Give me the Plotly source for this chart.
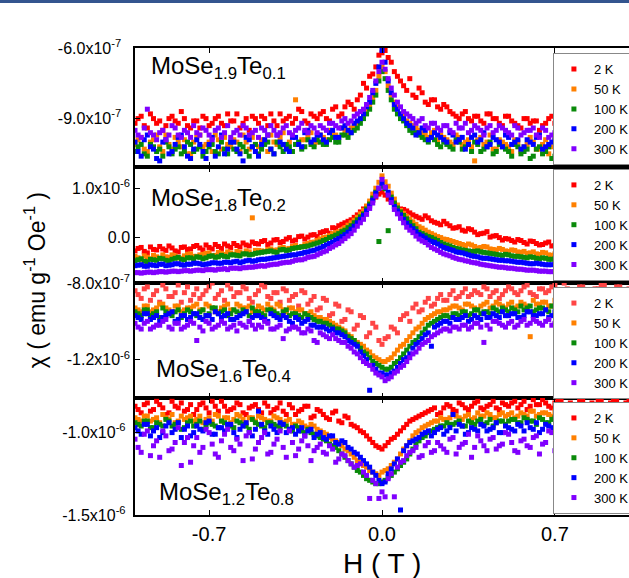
import plotly.graph_objects as go

# Field values, first sweep
H = [-1.0, -0.975, -0.95, -0.925, -0.9, -0.875, -0.85, -0.825, -0.8, -0.775,
     -0.75, -0.725, -0.7, -0.675, -0.65, -0.625, -0.6, -0.575, -0.55, -0.525,
     -0.5, -0.475, -0.45, -0.425, -0.4, -0.375, -0.35, -0.325, -0.3, -0.275,
     -0.25, -0.225, -0.2, -0.175, -0.15, -0.125, -0.1, -0.075, -0.05, -0.025,
     0.0,
     0.025, 0.05, 0.075, 0.1, 0.125, 0.15, 0.175, 0.2, 0.225, 0.25,
     0.275, 0.3, 0.325, 0.35, 0.375, 0.4, 0.425, 0.45, 0.475, 0.5,
     0.525, 0.55, 0.575, 0.6, 0.625, 0.65, 0.675, 0.7, 0.725, 0.75,
     0.775, 0.8, 0.825, 0.85, 0.875, 0.9, 0.925, 0.95, 0.975, 1.0]
# Field values, second sweep
H_B = [-0.9875, -0.9625, -0.9375, -0.9125, -0.8875, -0.8625, -0.8375, -0.8125, -0.7875, -0.7625,
       -0.7375, -0.7125, -0.6875, -0.6625, -0.6375, -0.6125, -0.5875, -0.5625, -0.5375, -0.5125,
       -0.4875, -0.4625, -0.4375, -0.4125, -0.3875, -0.3625, -0.3375, -0.3125, -0.2875, -0.2625,
       -0.2375, -0.2125, -0.1875, -0.1625, -0.1375, -0.1125, -0.0875, -0.0625, -0.0375, -0.0125,
       0.0125, 0.0375, 0.0625, 0.0875, 0.1125, 0.1375, 0.1625, 0.1875, 0.2125, 0.2375,
       0.2625, 0.2875, 0.3125, 0.3375, 0.3625, 0.3875, 0.4125, 0.4375, 0.4625, 0.4875,
       0.5125, 0.5375, 0.5625, 0.5875, 0.6125, 0.6375, 0.6625, 0.6875, 0.7125, 0.7375,
       0.7625, 0.7875, 0.8125, 0.8375, 0.8625, 0.8875, 0.9125, 0.9375, 0.9625, 0.9875]

TEMPS = ["2 K", "50 K", "100 K", "200 K", "300 K"]
COMPOUNDS = ["MoSe<sub>1.9</sub>Te<sub>0.1</sub>", "MoSe<sub>1.8</sub>Te<sub>0.2</sub>",
             "MoSe<sub>1.6</sub>Te<sub>0.4</sub>", "MoSe<sub>1.2</sub>Te<sub>0.8</sub>"]
UNIT = 1e-8  # values below are in units of 1e-8 emu g^-1 Oe^-1

# ---------- MoSe1.9Te0.1 ----------
P1_2K = [-92,-89,-94,-90,-91,-93,-89,-92,-90,-94, -91,-89,-93,-90,-92,-88,-91,-94,-90,-89,
         -92,-90,-88,-93,-91,-89,-90,-87,-92,-89, -88,-90,-86,-89,-85,-84,-82,-75,-72,-68,
         -62,
         -64,-70,-74,-78,-80,-77,-83,-82,-85,-84, -87,-89,-88,-90,-89,-91,-88,-90,-92,-89,
         -91,-93,-90,-92,-91,-93,-90,-92,-94,-91, -93,-92,-94,-91,-95,-93,-92,-96,-94,-95]
P1_2K_B = [-90,-93,-88,-92,-95,-90,-91,-87,-93,-91, -94,-90,-92,-89,-93,-91,-88,-92,-95,-90,
           -89,-93,-91,-88,-90,-92,-86,-91,-88,-90, -87,-91,-85,-88,-83,-86,-80,-77,-71,-63,
           -61,-66,-72,-76,-73,-81,-79,-84,-82,-86, -85,-88,-90,-87,-91,-89,-92,-88,-90,-93,
           -89,-92,-94,-90,-91,-95,-92,-89,-93,-95, -92,-94,-91,-96,-93,-95,-92,-94,-97,-93]
P1_50K = [-101,-98,-104,-99,-102,-97,-103,-100,-99,-105, -98,-102,-100,-97,-103,-101,-99,-104,-100,-98,
          -102,-99,-97,-101,-96,-100,-82,-99,-98,-101, -97,-99,-96,-98,-95,-94,-92,-88,-84,-78,
          -68,
          -76,-83,-88,-91,-93,-95,-97,-96,-99,-98, -100,-97,-101,-99,-108,-98,-100,-103,-99,-101,
          -104,-100,-102,-98,-103,-101,-105,-99,-102,-104, -101,-103,-100,-105,-102,-104,-101,-106,-103,-102]
P1_50K_B = [-99,-103,-100,-97,-104,-101,-98,-102,-105,-100, -97,-101,-104,-99,-98,-102,-100,-97,-103,-101,
            -99,-104,-100,-98,-102,-97,-101,-99,-96,-100, -98,-95,-97,-94,-96,-93,-90,-86,-81,-72,
            -70,-80,-85,-89,-92,-94,-96,-98,-95,-97, -99,-101,-98,-100,-102,-99,-101,-97,-103,-100,
            -102,-99,-104,-101,-100,-103,-99,-102,-105,-101, -103,-100,-104,-102,-99,-105,-103,-101,-104,-106]
P1_100K = [-104,-101,-106,-102,-103,-100,-105,-102,-104,-101, -103,-106,-102,-104,-100,-105,-103,-101,-104,-102,
           -105,-101,-103,-100,-104,-102,-101,-103,-99,-102, -100,-101,-98,-100,-97,-96,-94,-90,-86,-80,
           -70,
           -78,-86,-90,-93,-96,-97,-99,-98,-101,-100, -102,-99,-103,-101,-100,-104,-102,-105,-101,-103,
           -106,-102,-104,-107,-103,-105,-102,-106,-104,-107, -105,-103,-106,-104,-108,-105,-103,-107,-105,-106]
P1_100K_B = [-102,-105,-101,-104,-106,-102,-103,-105,-100,-104, -102,-104,-101,-105,-103,-100,-104,-102,-106,-101,
             -103,-100,-105,-102,-101,-104,-100,-102,-101,-99, -101,-99,-100,-97,-98,-95,-92,-88,-83,-74,
             -73,-82,-88,-91,-95,-96,-98,-100,-99,-102, -101,-103,-100,-102,-104,-101,-103,-100,-104,-102,
             -104,-101,-105,-103,-106,-102,-104,-107,-103,-105, -107,-104,-106,-103,-105,-108,-104,-106,-103,-107]
P1_200K = [-100,-106,-97,-103,-108,-99,-104,-98,-102,-107, -99,-104,-101,-106,-97,-103,-100,-105,-98,-102,
           -106,-99,-103,-97,-101,-104,-98,-102,-95,-99, -97,-100,-95,-98,-93,-96,-91,-88,-83,-75,
           -61,
           -74,-84,-88,-92,-94,-96,-95,-98,-97,-99, -96,-100,-98,-101,-97,-99,-102,-98,-100,-97,
           -101,-99,-102,-100,-98,-103,-101,-99,-102,-100, -103,-101,-99,-104,-102,-100,-103,-101,-104,-102]
P1_200K_B = [-104,-99,-102,-107,-100,-105,-101,-97,-106,-103, -101,-107,-98,-102,-105,-100,-103,-108,-99,-104,
             -101,-97,-105,-100,-103,-98,-101,-96,-100,-97, -99,-96,-98,-94,-95,-92,-90,-85,-79,-68,
             -66,-79,-86,-90,-93,-97,-94,-99,-96,-98, -100,-97,-99,-103,-98,-100,-96,-101,-99,-102,
             -98,-100,-103,-99,-101,-97,-102,-100,-104,-99, -102,-100,-104,-98,-101,-103,-100,-102,-99,-103]
P1_300K = [-95,-98,-86,-97,-96,-99,-93,-97,-95,-98, -96,-94,-97,-95,-98,-93,-96,-97,-94,-96,
           -98,-95,-93,-97,-94,-96,-95,-92,-96,-94, -93,-95,-92,-94,-90,-91,-88,-86,-81,-74,
           -66,
           -73,-80,-85,-88,-90,-91,-93,-92,-94,-93, -95,-92,-94,-96,-93,-95,-94,-96,-93,-95,
           -97,-94,-96,-95,-97,-94,-98,-96,-95,-97, -96,-98,-95,-97,-99,-96,-98,-97,-95,-98]
P1_300K_B = [-97,-94,-96,-99,-95,-97,-94,-98,-96,-93, -97,-95,-99,-94,-96,-98,-95,-93,-97,-95,
             -94,-97,-95,-96,-93,-97,-94,-95,-93,-96, -94,-92,-93,-91,-92,-89,-87,-84,-78,-70,
             -69,-77,-83,-87,-89,-92,-90,-94,-92,-95, -93,-96,-94,-92,-95,-94,-97,-93,-95,-94,
             -96,-93,-97,-95,-94,-98,-95,-97,-96,-94, -98,-96,-97,-95,-98,-97,-99,-96,-98,-97]

# ---------- MoSe1.8Te0.2 ----------
P2_2K = [-27,-20,-31,-24,-18,-26,-21,-29,-19,-23, -16,-25,-20,-14,-22,-17,-12,-19,-15,-9,
         -13,-6,-11,-4,-8,0,-5,3,1,6, 10,14,20,24,30,36,46,58,70,82,
         92,
         78,68,58,54,46,40,44,34,29,33, 24,20,15,18,11,8,12,3,0,-2,
         -6,-4,-10,-7,-12,-14,-9,-16,-13,-18, -15,-21,-17,-23,-19,-25,-22,-28,-24,-30]
P2_2K_B = [-22,-28,-19,-25,-23,-17,-27,-20,-24,-18, -21,-15,-23,-18,-13,-20,-16,-11,-17,-12,
           -8,-14,-5,-10,-3,-7,2,-3,5,2, 12,9,19,27,33,41,52,63,76,88,
           86,73,62,57,50,43,37,40,31,26, 28,19,22,13,16,6,9,1,4,-5,
           -3,-9,-6,-13,-8,-15,-11,-17,-14,-20, -16,-22,-19,-25,-21,-27,-23,-26,-29,-25]
P2_50K = [-38,-44,-40,-36,-42,-39,-35,-41,-37,-33, -38,-34,-31,-36,-32,-29,-34,-30,-27,40,
          -26,-28,-23,-25,-20,-22,-16,-18,-12,-9, -3,1,8,12,20,30,41,55,74,100,
          125,
          104,78,55,43,32,22,15,8,2,-3, -6,-10,-14,-13,-18,-20,-19,-24,-22,-27,
          -25,-29,-28,-31,-33,-30,-35,-33,-37,-34, -38,-36,-40,-37,-41,-39,-43,-40,-44,-42]
P2_50K_B = [-41,-37,-43,-39,-35,-40,-37,-42,-34,-38, -35,-32,-37,-30,-34,-31,-28,-33,-29,-26,
            -27,-24,-26,-21,-23,-18,-20,-14,-10,-6, 0,4,10,16,25,35,48,64,88,112,
            113,90,66,49,37,27,19,11,5,0, -4,-8,-12,-16,-15,-21,-18,-23,-25,-24,
            -28,-26,-30,-32,-29,-34,-31,-36,-35,-38, -37,-39,-41,-38,-42,-40,-44,-41,-43,-45]
P2_100K = [-47,-43,-49,-45,-42,-46,-44,-40,-45,-41, -39,-43,-38,-40,-36,-39,-35,-37,-33,-34,
           -31,-29,-27,-30,-24,-25,-21,-19,-17,-13, -9,-4,2,8,15,24,36,48,68,92,
           104,
           14,70,52,38,24,11,5,0,-6,-13, -17,-22,-25,-27,-28,-29,-31,-33,-35,-34,
           -37,-38,-40,-39,-42,-41,-44,-43,-45,-44, -46,-45,-47,-46,-48,-47,-49,-48,-50,-49]
P2_100K_B = [-45,-48,-44,-46,-43,-47,-42,-44,-41,-43, -40,-41,-37,-39,-38,-35,-36,-33,-35,-32,
             -30,-28,-29,-25,-26,-22,-20,-18,-15,-11, -6,0,5,12,20,30,42,58,80,-8,
             99,82,60,45,31,18,8,2,-3,-10, -15,-20,-23,-26,-28,-27,-30,-32,-34,-36,
             -35,-38,-39,-41,-40,-43,-42,-44,-43,-45, -47,-45,-46,-48,-47,-49,-48,-46,-49,-48]
P2_200K = [-57,-55,-58,-56,-54,-57,-55,-53,-56,-54, -52,-55,-53,-51,-52,-50,-49,-51,-47,-48,
           -45,-44,-42,-40,-38,-36,-35,-32,-29,-26, -21,-15,-9,-2,6,17,30,45,64,90,
           110,
           92,63,46,29,18,6,-1,-8,-13,-20, -24,-29,-31,-35,-38,-41,-42,-44,-46,-47,
           -48,-50,-51,-53,-52,-54,-55,-54,-56,-57, -56,-58,-57,-59,-58,-60,-58,-59,-61,-60]
P2_200K_B = [-56,-58,-55,-57,-54,-56,-53,-55,-54,-52, -53,-54,-51,-52,-50,-51,-48,-49,-46,-47,
             -44,-43,-41,-39,-37,-35,-33,-30,-27,-23, -18,-12,-5,2,11,23,37,54,76,100,
             102,77,54,37,23,12,3,-5,-10,-17, -22,-26,-30,-33,-37,-39,-42,-43,-45,-46,
             -47,-49,-50,-52,-53,-53,-55,-55,-56,-57, -57,-58,-58,-58,-59,-59,-60,-59,-60,-61]
P2_300K = [-71,-72,-70,-71,-69,-70,-68,-69,-67,-68, -66,-67,-65,-66,-64,-65,-62,-63,-61,-60,
           -58,-58,-55,-54,-51,-50,-46,-45,-40,-38, -32,-27,-19,-12,-2,8,23,37,59,84,
           118,
           86,57,39,21,10,-3,-10,-20,-26,-33, -37,-42,-45,-48,-51,-54,-56,-58,-60,-61,
           -62,-64,-65,-66,-67,-68,-69,-69,-70,-70, -71,-71,-72,-72,-73,-72,-73,-74,-73,-74]
P2_300K_B = [-71,-71,-70,-70,-69,-69,-68,-68,-67,-67, -66,-65,-65,-64,-63,-62,-62,-61,-60,-59,
             -57,-56,-54,-52,-50,-48,-45,-43,-39,-35, -29,-22,-15,-7,3,15,30,47,70,100,
             102,71,48,30,15,3,-7,-15,-23,-30, -35,-40,-44,-47,-50,-52,-55,-57,-59,-60,
             -62,-63,-64,-66,-66,-68,-68,-69,-70,-71, -71,-72,-71,-73,-72,-73,-74,-73,-74,-75]

# ---------- MoSe1.6Te0.4 ----------
P3_2K = [-84,-88,-82,-86,-90,-83,-87,-81,-85,-89, -83,-86,-82,-88,-84,-81,-87,-85,-83,-90,
         -84,-82,-88,-85,-83,-89,-86,-84,-91,-87, -93,-89,-96,-92,-99,-95,-102,-98,-106,-103,
         -112,
         -108,-104,-99,-96,-93,-95,-90,-92,-88,-89, -86,-88,-85,-87,-84,-86,-83,-85,-88,-84,
         -83,-86,-82,-85,-87,-83,-84,-81,-86,-83, -85,-82,-84,-86,-83,-81,-85,-82,-84,-83]
P3_2K_B = [-86,-83,-89,-84,-81,-87,-85,-90,-82,-86, -88,-84,-80,-86,-89,-83,-85,-82,-88,-86,
           -81,-87,-85,-90,-84,-87,-92,-85,-89,-94, -88,-97,-91,-100,-94,-104,-97,-108,-101,-110,
           -109,-103,-106,-97,-100,-91,-94,-88,-91,-86, -89,-84,-87,-83,-86,-85,-82,-87,-84,-86,
           -82,-85,-84,-81,-86,-83,-85,-82,-84,-80, -84,-86,-82,-85,-83,-81,-84,-86,-82,-85]
P3_50K = [-93,-95,-92,-94,-91,-93,-95,-92,-94,-93, -91,-94,-92,-95,-93,-91,-94,-92,-93,-95,
          -92,-94,-93,-91,-94,-93,-95,-94,-96,-97, -98,-99,-101,-103,-105,-108,-111,-113,-116,-119,
          -121,
          -120,-117,-113,-110,-106,-103,-99,-97,-95,-94, -93,-92,-94,-91,-93,-92,-90,-92,-91,-93,
          -90,-92,-91,-108,-91,-90,-92,-89,-91,-90, -89,-91,-90,-92,-89,-91,-90,-88,-91,-89]
P3_50K_B = [-94,-92,-95,-93,-91,-94,-92,-95,-93,-92, -94,-91,-93,-95,-92,-94,-91,-93,-92,-94,
            -93,-91,-94,-92,-95,-93,-94,-96,-95,-98, -99,-100,-102,-104,-107,-110,-112,-115,-118,-120,
            -121,-119,-115,-112,-108,-104,-101,-98,-96,-95, -94,-92,-93,-91,-92,-94,-91,-93,-90,-92,
            -91,-93,-90,-92,-89,-91,-90,-92,-90,-91, -90,-88,-91,-89,-90,-92,-89,-90,-88,-90]
P3_100K = [-95,-97,-94,-96,-98,-95,-97,-94,-96,-95, -97,-94,-96,-93,-95,-97,-94,-96,-95,-93,
           -95,-97,-94,-96,-95,-97,-96,-98,-97,-99, -100,-101,-103,-104,-106,-109,-112,-116,-119,-122,
           -124,
           -125,-122,-119,-115,-111,-108,-104,-101,-99,-97, -98,-96,-95,-97,-94,-96,-95,-93,-95,-94,
           -93,-95,-94,-92,-94,-93,-95,-92,-94,-93, -92,-94,-93,-91,-93,-92,-94,-91,-93,-92]
P3_100K_B = [-96,-94,-97,-95,-93,-96,-95,-98,-94,-96, -95,-97,-93,-96,-94,-96,-95,-94,-97,-95,
             -96,-94,-95,-97,-94,-96,-97,-96,-98,-100, -101,-102,-104,-105,-108,-110,-114,-117,-121,-123,
             -125,-124,-121,-117,-113,-110,-106,-102,-100,-98, -97,-96,-97,-95,-96,-94,-95,-96,-94,-93,
             -95,-94,-92,-93,-95,-93,-94,-92,-93,-94, -93,-92,-94,-92,-93,-91,-92,-93,-91,-92]
P3_200K = [-97,-99,-96,-98,-100,-97,-95,-99,-97,-98, -96,-99,-97,-95,-98,-96,-99,-97,-95,-98,
           -97,-99,-96,-98,-97,-100,-98,-101,-99,-102, -103,-104,-104,-106,-108,-111,-113,-118,-136,-125,
           -127,
           -128,-126,-122,-119,-114,-111,-107,-113,-102,-100, -101,-99,-98,-100,-97,-99,-98,-96,-98,-97,
           -96,-98,-97,-95,-97,-96,-98,-95,-97,-96, -94,-97,-95,-96,-94,-97,-95,-96,-94,-95]
P3_200K_B = [-98,-96,-99,-97,-98,-96,-100,-97,-99,-96, -98,-97,-99,-96,-97,-99,-98,-96,-100,-97,
             -98,-100,-97,-99,-98,-101,-99,-100,-102,-103, -103,-105,-106,-107,-110,-112,-116,-120,-123,-127,
             -128,-127,-124,-120,-117,-112,-109,-106,-103,-101, -100,-98,-99,-97,-99,-98,-96,-98,-97,-95,
             -97,-96,-98,-95,-97,-96,-94,-97,-95,-96, -95,-96,-94,-97,-95,-93,-96,-95,-94,-96]
P3_300K = [-101,-104,-100,-103,-102,-99,-104,-101,-103,-100, -110,-105,-101,-103,-100,-104,-102,-101,-103,-102,
           -102,-100,-104,-103,-109,-104,-103,-106,-104,-110, -106,-108,-107,-110,-111,-114,-117,-121,-123,-127,
           -129,
           -130,-127,-124,-121,-117,-114,-111,-108,-106,-104, -105,-103,-102,-104,-101,-103,-102,-100,-101,-103,
           -100,-102,-99,-101,-100,-102,-99,-101,-98,-100, -102,-99,-101,-98,-100,-99,-101,-98,-100,-99]
P3_300K_B = [-103,-101,-104,-102,-100,-103,-101,-104,-102,-101, -103,-100,-104,-102,-101,-103,-105,-102,-100,-104,
             -103,-101,-104,-102,-105,-103,-104,-106,-105,-111, -107,-109,-109,-111,-113,-116,-119,-122,-125,-128,
             -131,-129,-126,-123,-119,-116,-112,-110,-107,-105, -104,-103,-104,-102,-103,-101,-111,-104,-100,-102,
             -101,-103,-100,-102,-99,-101,-100,-102,-99,-101, -100,-98,-101,-99,-100,-102,-99,-100,-98,-101]

# ---------- MoSe1.2Te0.8 ----------
P4_2K = [-84,-88,-82,-86,-83,-89,-81,-85,-87,-83, -86,-82,-88,-84,-81,-87,-85,-83,-89,-84,
         -86,-82,-88,-85,-87,-83,-89,-86,-84,-90, -87,-91,-88,-93,-90,-95,-97,-100,-104,-108,
         -110,
         -106,-103,-99,-95,-92,-90,-88,-86,-89,-85, -84,-87,-83,-86,-82,-85,-84,-81,-86,-83,
         -82,-85,-81,-84,-83,-80,-84,-82,-81,-83, -85,-80,-83,-82,-81,-84,-82,-80,-83,-81]
P4_2K_B = [-86,-83,-87,-81,-85,-88,-84,-82,-86,-89, -83,-85,-81,-87,-84,-86,-82,-88,-85,-83,
           -88,-84,-86,-82,-89,-85,-87,-84,-91,-86, -89,-92,-87,-94,-91,-96,-99,-102,-106,-109,
           -108,-104,-101,-97,-93,-91,-89,-87,-85,-88, -83,-86,-82,-85,-84,-81,-86,-83,-85,-82,
           -84,-81,-83,-86,-80,-83,-82,-85,-81,-84, -82,-84,-80,-83,-85,-81,-83,-80,-84,-82]
P4_50K = [-91,-93,-90,-92,-94,-91,-89,-93,-92,-90, -92,-94,-91,-89,-93,-91,-92,-90,-94,-91,
          -90,-92,-93,-91,-94,-92,-95,-94,-97,-96, -99,-101,-104,-106,-110,-113,-117,-120,-123,-125,
          -124,
          -122,-118,-113,-108,-102,-99,-96,-94,-93,-92, -91,-90,-92,-89,-91,-90,-88,-91,-89,-90,
          -88,-90,-89,-87,-90,-88,-89,-87,-90,-88, -89,-87,-88,-90,-87,-89,-88,-86,-89,-87]
P4_50K_B = [-92,-90,-93,-91,-89,-92,-94,-90,-91,-93, -90,-92,-93,-90,-91,-94,-89,-92,-91,-93,
            -91,-93,-90,-92,-93,-95,-93,-96,-95,-98, -100,-103,-105,-108,-111,-115,-118,-121,-124,-126,
            -123,-120,-116,-110,-105,-100,-97,-95,-93,-91, -92,-89,-91,-90,-92,-88,-90,-89,-91,-88,
            -89,-91,-88,-90,-87,-89,-88,-90,-87,-89, -88,-86,-89,-87,-88,-90,-86,-88,-87,-89]
P4_100K = [-94,-96,-93,-97,-95,-92,-96,-94,-97,-93, -95,-98,-94,-96,-93,-95,-97,-94,-96,-92,
           -95,-97,-94,-96,-95,-98,-96,-99,-98,-101, -103,-105,-108,-111,-115,-119,-123,-126,-129,-131,
           -130,
           -127,-124,-120,-116,-110,-105,-102,-99,-97,-96, -95,-94,-96,-93,-95,-92,-94,-96,-93,-95,
           -92,-94,-91,-93,-95,-92,-94,-91,-93,-92, -94,-91,-93,-92,-90,-93,-91,-92,-90,-92]
P4_100K_B = [-95,-93,-97,-94,-96,-93,-95,-98,-94,-96, -93,-96,-95,-97,-94,-96,-93,-95,-98,-94,
             -96,-94,-95,-97,-96,-99,-97,-100,-100,-102, -104,-107,-109,-113,-117,-121,-124,-128,-130,-131,
             -129,-126,-122,-118,-113,-107,-103,-100,-98,-96, -94,-95,-93,-96,-94,-93,-95,-92,-94,-93,
             -93,-92,-94,-92,-93,-91,-94,-92,-91,-93, -92,-90,-93,-91,-92,-94,-90,-92,-91,-93]
P4_200K = [-97,-101,-95,-99,-103,-96,-100,-94,-98,-102, -96,-99,-93,-101,-97,-95,-100,-98,-94,-102,
           -87,-99,-96,-100,-95,-98,-101,-97,-99,-103, -100,-104,-102,-107,-106,-110,-113,-117,-121,-126,
           -131,
           -125,-119,-147,-108,-105,-103,-100,-102,-98,-101, -97,-99,-96,-100,-98,-95,-99,-97,-100,-96,
           -98,-95,-99,-97,-94,-98,-96,-99,-95,-97, -98,-94,-97,-96,-99,-95,-97,-94,-98,-96]
P4_200K_B = [-99,-95,-102,-97,-100,-94,-98,-103,-96,-100, -98,-94,-101,-97,-99,-95,-103,-96,-100,-98,
             -95,-101,-98,-94,-100,-97,-99,-102,-98,-101, -103,-102,-106,-105,-109,-112,-115,-119,-124,-129,
             -130,-122,-116,-111,-106,-104,-101,-99,-100,-97, -99,-89,-95,-101,-97,-99,-96,-98,-94,-100,
             -97,-99,-96,-94,-98,-100,-95,-97,-99,-96, -94,-98,-97,-95,-99,-96,-98,-95,-97,-99]
P4_300K = [-104,-112,-99,-108,-115,-102,-110,-97,-106,-118, -103,-109,-100,-113,-105,-98,-111,-107,-102,-116,
           -106,-100,-112,-104,-109,-99,-114,-105,-108,-111, -107,-113,-110,-116,-114,-119,-120,-124,-140,-131,
           -136,
           -128,-139,-118,-114,-111,-115,-108,-112,-106,-110, -104,-113,-107,-101,-109,-105,-111,-103,-108,-100,
           -106,-112,-104,-109,-102,-107,-99,-111,-105,-103, -108,-101,-106,-110,-104,-100,-107,-103,-109,-105]
P4_300K_B = [-109,-101,-114,-105,-99,-111,-106,-120,-103,-108, -112,-98,-107,-115,-101,-109,-104,-117,-100,-110,
             -103,-113,-107,-99,-115,-106,-110,-102,-117,-109, -112,-108,-118,-113,-117,-121,-119,-126,-129,-140,
             -139,-125,-121,-117,-112,-109,-114,-106,-111,-108, -112,-103,-109,-106,-115,-102,-108,-104,-110,-107,
             -101,-111,-105,-108,-103,-113,-106,-100,-109,-104, -107,-102,-110,-105,-103,-108,-101,-106,-104,-109]

NB = "\u00a0"
Y1_TICKVALS = [-9e-7, -6e-7]
Y1_TICKTEXT = ["-9.0x10<sup>-7</sup>" + NB * 2, "-6.0x10<sup>-7</sup>" + NB * 2]
Y2_TICKVALS = [0.0, 1e-6]
Y2_TICKTEXT = ["0.0", "1.0x10<sup>-6</sup>"]
Y3_TICKVALS = [-1.2e-6, -8e-7]
Y3_TICKTEXT = ["-1.2x10<sup>-6</sup>", "-8.0x10<sup>-7</sup>"]
Y4_TICKVALS = [-1.5e-6, -1.0e-6]
Y4_TICKTEXT = ["-1.5x10<sup>-6</sup>" + NB, "-1.0x10<sup>-6</sup>" + NB]
X_TICKVALS = [-0.7, 0.0, 0.7]
X_TICKTEXT = ["-0.7", "0.0", "0.7"]

PANELS = [
    [(P1_2K, P1_2K_B), (P1_50K, P1_50K_B), (P1_100K, P1_100K_B), (P1_200K, P1_200K_B), (P1_300K, P1_300K_B)],
    [(P2_2K, P2_2K_B), (P2_50K, P2_50K_B), (P2_100K, P2_100K_B), (P2_200K, P2_200K_B), (P2_300K, P2_300K_B)],
    [(P3_2K, P3_2K_B), (P3_50K, P3_50K_B), (P3_100K, P3_100K_B), (P3_200K, P3_200K_B), (P3_300K, P3_300K_B)],
    [(P4_2K, P4_2K_B), (P4_50K, P4_50K_B), (P4_100K, P4_100K_B), (P4_200K, P4_200K_B), (P4_300K, P4_300K_B)],
]
Y_TICKS = [(Y1_TICKVALS, Y1_TICKTEXT), (Y2_TICKVALS, Y2_TICKTEXT),
           (Y3_TICKVALS, Y3_TICKTEXT), (Y4_TICKVALS, Y4_TICKTEXT)]

# ---- styling / layout ----
FONT = "Liberation Sans, Arial, sans-serif"
COLORS = ["#ff0000", "#ff8000", "#0a8a0a", "#0000ff", "#8000ff"]
Y_RANGES = [[-1.106e-6, -5.995e-7], [-9.2e-7, 1.43e-6], [-1.4005e-6, -7.995e-7], [-1.5005e-6, -7.9e-7]]
DOMAINS = [[0.7452, 1.0], [0.4968, 0.7452], [0.2505, 0.4968], [0.0, 0.2505]]
LEGEND_Y = [0.989, 0.741, 0.488, 0.242]
LABEL_POS = [(0.028, 0.958), (0.028, 0.676), (0.038, 0.309), (0.044, 0.046)]

fig = go.Figure()
for p, series in enumerate(PANELS):
    k = p + 1
    suffix = "" if k == 1 else str(k)
    for t, (sa, sb) in enumerate(series):
        col = COLORS[t]
        if p == 2 and t == 0:
            col = "#ff4545"
        fig.add_trace(go.Scatter(
            x=H + H_B, y=[v * UNIT for v in sa + sb], mode="markers",
            name=TEMPS[t],
            marker=dict(symbol="square", size=5, color=col, line=dict(width=0)),
            xaxis="x" + suffix, yaxis="y" + suffix,
            legend="legend" + suffix,
        ))

layout = dict(
    width=629, height=578,
    margin=dict(l=135, r=0, t=48, b=63, autoexpand=False),
    paper_bgcolor="white", plot_bgcolor="white",
    font=dict(family=FONT, color="black"),
    showlegend=True,
)
for p in range(4):
    k = p + 1
    suffix = "" if k == 1 else str(k)
    layout["xaxis" + suffix] = dict(
        domain=[0, 1], anchor="y" + suffix, range=[-1, 1],
        tickvals=X_TICKVALS, ticktext=X_TICKTEXT,
        ticks="inside", ticklen=5, tickwidth=1.2, tickcolor="black",
        showline=True, linecolor="black", linewidth=1.5, mirror="ticks",
        showgrid=False, zeroline=False,
        showticklabels=(k == 4), tickfont=dict(size=20, family=FONT),
        matches=None if k == 1 else "x",
    )
    tv, tt = Y_TICKS[p]
    layout["yaxis" + suffix] = dict(
        domain=DOMAINS[p], anchor="x" + suffix, range=Y_RANGES[p],
        tickvals=tv, ticktext=tt,
        ticks="inside", ticklen=5, tickwidth=1.2, tickcolor="black",
        showline=True, linecolor="black", linewidth=1.5, mirror=False,
        showgrid=False, zeroline=False,
        tickfont=dict(size=16, family=FONT),
    )
    layout["legend" + suffix] = dict(
        x=0.846, xanchor="left", y=LEGEND_Y[p], yanchor="top",
        bgcolor="white", bordercolor="#888888", borderwidth=1,
        font=dict(size=13, family=FONT), tracegroupgap=0,
        itemwidth=30,
    )

annotations = []
for p in range(4):
    x, y = LABEL_POS[p]
    annotations.append(dict(
        text=COMPOUNDS[p], xref="paper", yref="paper", x=x, y=y,
        xanchor="left", yanchor="middle", showarrow=False,
        font=dict(size=24, family=FONT, color="black"),
    ))
annotations.append(dict(
    text="\u03c7 ( emu g<sup>-1</sup> Oe<sup>-1</sup> )", xref="paper", yref="paper",
    x=-0.202, y=0.503, textangle=-90, xanchor="center", yanchor="middle",
    showarrow=False, font=dict(size=23, family=FONT, color="black"),
))
annotations.append(dict(
    text="H ( T )", xref="paper", yref="paper", x=0.5, y=-0.1028,
    xanchor="center", yanchor="middle", showarrow=False,
    font=dict(size=28, family=FONT, color="black"),
))
layout["annotations"] = annotations
layout["shapes"] = [dict(
    type="rect", xref="paper", yref="paper",
    x0=-0.3, x1=1.01, y0=(515 - 3) / 467, y1=(515 + 1) / 467,
    fillcolor="#34558f", line=dict(width=0), layer="above",
)]

fig.update_layout(**layout)
fig.write_html("out.html")
